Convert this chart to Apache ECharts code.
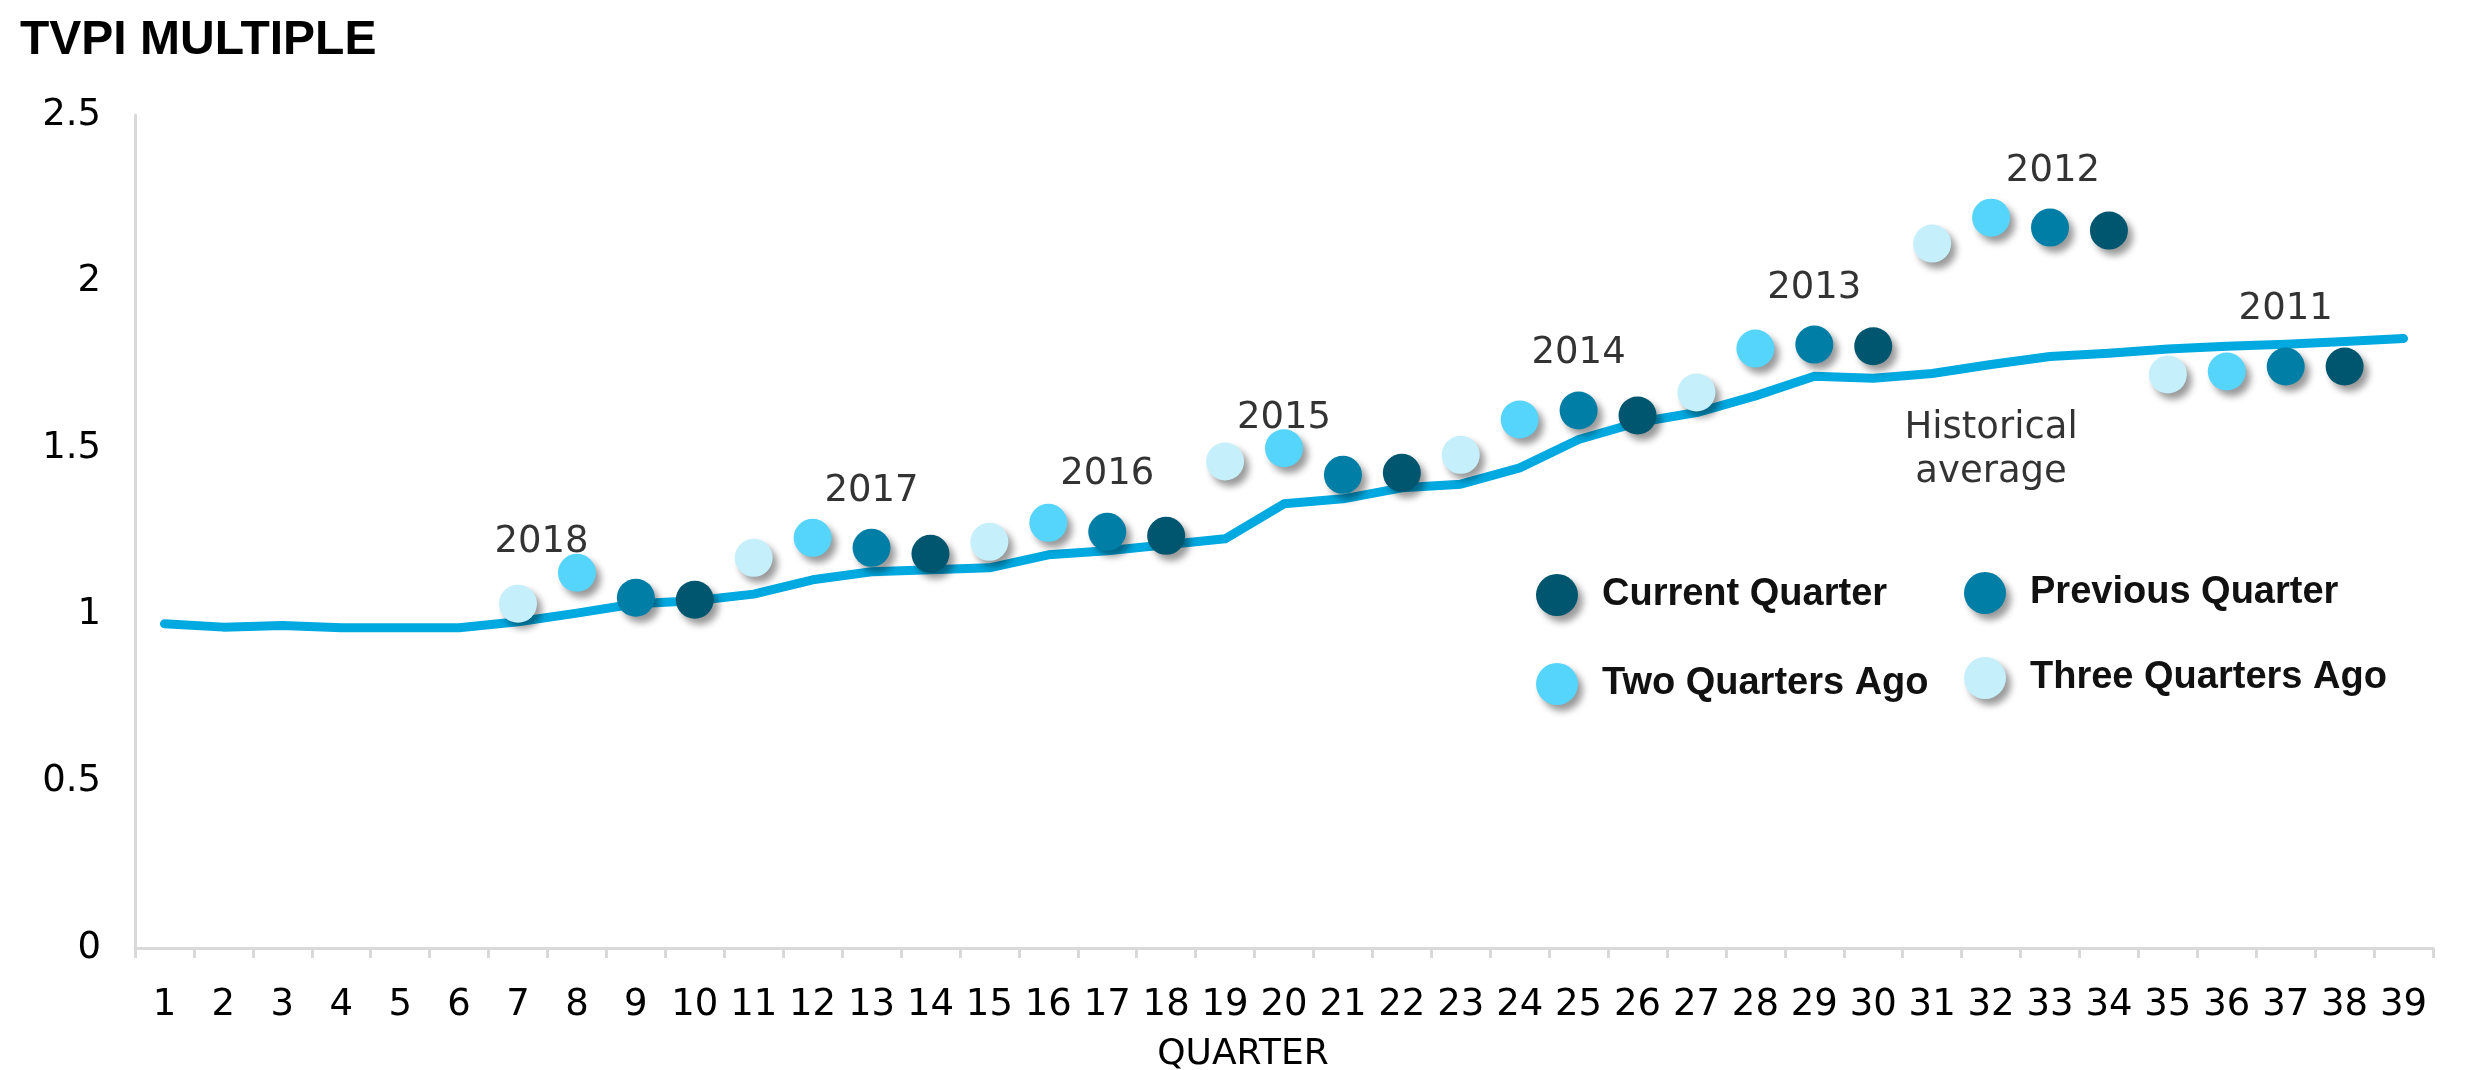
<!DOCTYPE html>
<html>
<head>
<meta charset="utf-8">
<title>TVPI Multiple</title>
<script src="https://cdn.jsdelivr.net/npm/echarts@6/dist/echarts.min.js"></script>
<style>
  html, body { margin: 0; padding: 0; background: #fff; }
  #main { width: 2466px; height: 1070px; }
</style>
</head>
<body>
<div id="main"></div>
<script>
// quarter tick labels
var quarters = ['1','2','3','4','5','6','7','8','9','10','11','12','13','14','15','16','17','18','19','20',
    '21','22','23','24','25','26','27','28','29','30','31','32','33','34','35','36','37','38','39'];

// historical average line
var histAvg = [0.973, 0.963, 0.968, 0.961, 0.961, 0.961, 0.979, 1.005, 1.033, 1.042, 1.062, 1.105, 1.129,
    1.135, 1.141, 1.18, 1.192, 1.21, 1.228, 1.333, 1.348, 1.381, 1.392, 1.441, 1.526, 1.577, 1.607,
    1.657, 1.716, 1.71, 1.724, 1.751, 1.775, 1.785, 1.798, 1.806, 1.812, 1.82, 1.829];

// vintage dots: quarter position and TVPI
var threeAgoQ = ['7', '11', '15', '19', '23', '27', '31', '35'];
var threeAgoV = [1.033, 1.171, 1.219, 1.46, 1.48, 1.667, 2.114, 1.721];
var twoAgoQ = ['8', '12', '16', '20', '24', '28', '32', '36'];
var twoAgoV = [1.126, 1.231, 1.276, 1.50, 1.586, 1.799, 2.192, 1.73];
var prevQ = ['9', '13', '17', '21', '25', '29', '33', '37'];
var prevV = [1.051, 1.201, 1.249, 1.42, 1.613, 1.811, 2.162, 1.745];
var currQ = ['10', '14', '18', '22', '26', '30', '34', '38'];
var currV = [1.045, 1.183, 1.237, 1.426, 1.598, 1.806, 2.153, 1.745];

// vintage year annotations (x in quarter units)
var yearNames = ['2018', '2017', '2016', '2015', '2014', '2013', '2012', '2011', 'Historical\naverage'];
var yearX = [7.4, 13.0, 17.0, 20.0, 25.0, 29.0, 33.05, 37.0, 32.0];
var yearY = [1.216, 1.37, 1.42, 1.59, 1.785, 1.98, 2.33, 1.916, 1.492];

var colors = {
    current: '#00566f',
    previous: '#007ea6',
    two: '#55d4fc',
    three: '#c6effc',
    line: '#00a9e0'
};

var shadow = {
    shadowBlur: 7,
    shadowColor: 'rgba(0,0,0,0.4)',
    shadowOffsetX: 5,
    shadowOffsetY: 6
};

function pairs(q, v) {
    return q.map(function (k, i) { return [k, v[i]]; });
}

function dotSeries(name, color, q, v) {
    return {
        name: name,
        type: 'scatter',
        symbol: 'circle',
        symbolSize: 38,
        z: 3,
        itemStyle: Object.assign({color: color, opacity: 1}, shadow),
        data: pairs(q, v)
    };
}

// one legend per item so the 2x2 block keeps its columns
function legendItem(name, left, top) {
    return {
        data: [name],
        left: left,
        top: top,
        itemWidth: 42,
        itemHeight: 42,
        icon: 'circle',
        itemStyle: Object.assign({opacity: 1}, shadow),
        textStyle: {
            fontFamily: 'Liberation Sans',
            fontWeight: 'bold',
            fontSize: 38,
            color: '#111',
            padding: [0, 0, 0, 19]
        }
    };
}

var myChart = echarts.init(document.getElementById('main'));

var option = {
    animation: false,
    backgroundColor: '#fff',
    title: {
        text: 'TVPI MULTIPLE',
        left: 15,
        top: 12,
        textStyle: {
            fontFamily: 'Liberation Sans',
            fontWeight: 'bold',
            fontSize: 48,
            color: '#000'
        }
    },
    legend: [
        legendItem('Current Quarter', 1531, 569),
        legendItem('Previous Quarter', 1959, 567),
        legendItem('Two Quarters Ago', 1531, 658),
        legendItem('Three Quarters Ago', 1959, 652)
    ],
    grid: {
        left: 135,
        right: 33,
        top: 115,
        bottom: 122,
        outerBoundsMode: 'none'
    },
    xAxis: [{
        type: 'category',
        data: quarters,
        name: 'QUARTER',
        nameLocation: 'middle',
        nameGap: 89,
        nameTextStyle: {
            fontFamily: 'DejaVu Sans',
            fontSize: 36,
            color: '#000',
            padding: [0, 82, 0, 0]
        },
        axisLine: {lineStyle: {color: '#d9d9d9', width: 3}},
        axisTick: {show: true, interval: 0, length: 10, lineStyle: {color: '#d9d9d9', width: 3}},
        axisLabel: {
            interval: 0,
            margin: 39,
            fontFamily: 'DejaVu Sans',
            fontSize: 37,
            color: '#000'
        },
        splitLine: {show: false}
    }, {
        type: 'value',
        min: 0.5,
        max: 39.5,
        show: false
    }],
    yAxis: {
        type: 'value',
        min: 0,
        max: 2.5,
        interval: 0.5,
        axisLine: {show: true, lineStyle: {color: '#d9d9d9', width: 3}},
        axisTick: {show: false},
        splitLine: {show: false},
        axisLabel: {
            margin: 34,
            fontFamily: 'DejaVu Sans',
            fontSize: 37,
            color: '#000'
        }
    },
    series: [{
        name: 'Historical average',
        type: 'line',
        data: histAvg,
        symbol: 'none',
        z: 2,
        lineStyle: {color: colors.line, width: 9, cap: 'round', join: 'round'}
    },
        dotSeries('Current Quarter', colors.current, currQ, currV),
        dotSeries('Previous Quarter', colors.previous, prevQ, prevV),
        dotSeries('Two Quarters Ago', colors.two, twoAgoQ, twoAgoV),
        dotSeries('Three Quarters Ago', colors.three, threeAgoQ, threeAgoV),
    {
        name: 'years',
        type: 'scatter',
        xAxisIndex: 1,
        symbolSize: 0,
        silent: true,
        z: 4,
        label: {
            show: true,
            position: 'inside',
            formatter: function (p) { return yearNames[p.dataIndex]; },
            fontFamily: 'DejaVu Sans',
            fontSize: 37,
            lineHeight: 44,
            color: '#000'
        },
        data: yearX.map(function (x, i) { return [x, yearY[i]]; })
    }]
};

myChart.setOption(option);
</script>
</body>
</html>
